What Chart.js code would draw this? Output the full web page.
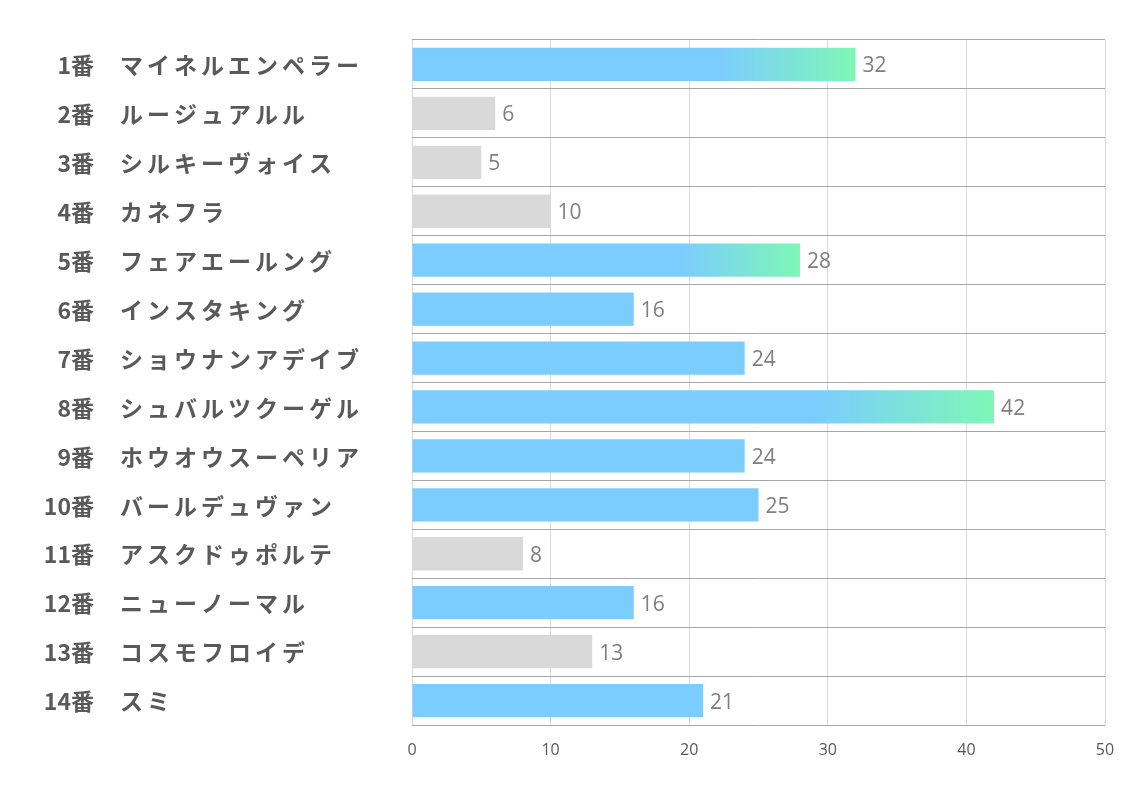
<!DOCTYPE html>
<html><head><meta charset="utf-8">
<script src="https://cdn.jsdelivr.net/npm/chart.js@4/dist/chart.umd.min.js"></script>
<style>html,body{margin:0;padding:0;background:#fff}#wrap{width:1134px;height:793px}</style>
</head><body><div id="wrap"><canvas id="c"></canvas></div>
<script>
const horseNumbers = ["1番","2番","3番","4番","5番","6番","7番","8番","9番","10番","11番","12番","13番","14番"];
const horseNames = ["マイネルエンペラー","ルージュアルル","シルキーヴォイス","カネフラ","フェアエールング","インスタキング","ショウナンアデイブ","シュバルツクーゲル","ホウオウスーペリア","バールデュヴァン","アスクドゥポルテ","ニューノーマル","コスモフロイデ","スミ"];
const values = [32,6,5,10,28,16,24,42,24,25,8,16,13,21];
const tiers = ["top","low","low","low","top","mid","mid","top","mid","mid","low","mid","low","mid"];
const xTicks = [0,10,20,30,40,50];

const BLUE = "#7BCCFF", GREEN = "#7EF7B6", GRAY = "#D9D9D9";

const labelPlugin = {
  id: "labels",
  afterDatasetsDraw(chart) {
    const ctx = chart.ctx;
    const meta = chart.getDatasetMeta(0);
    ctx.save();
    ctx.font = "21px 'Open Sans', sans-serif";
    ctx.fillStyle = "#7F7F7F";
    ctx.textAlign = "left";
    ctx.textBaseline = "middle";
    meta.data.forEach((el, i) => {
      ctx.fillText(String(values[i]), el.x + 7, el.y + 2);
    });
    const y = chart.scales.y;
    ctx.fillStyle = "#595959";
    horseNumbers.forEach((n, i) => {
      const py = y.getPixelForValue(i) + 1;
      ctx.font = "bold 23px 'Noto Sans CJK JP', sans-serif";
      ctx.letterSpacing = "0px";
      ctx.textAlign = "right";
      ctx.fillText(n, 94, py);
      ctx.textAlign = "left";
      ctx.letterSpacing = "4px";
      ctx.fillText(horseNames[i], 120, py);
    });
    ctx.restore();
  }
};

new Chart(document.getElementById("c"), {
  type: "bar",
  data: {
    labels: horseNames,
    datasets: [{
      data: values,
      barPercentage: 0.68,
      categoryPercentage: 1,
      backgroundColor(c) {
        const i = c.dataIndex;
        if (tiers[i] === "low") return GRAY;
        if (tiers[i] === "mid") return BLUE;
        const ch = c.chart;
        if (!ch.chartArea) return BLUE;
        const x0 = ch.scales.x.getPixelForValue(0);
        const x1 = ch.scales.x.getPixelForValue(values[i]);
        const g = ch.ctx.createLinearGradient(x0, 0, x1, 0);
        g.addColorStop(0, BLUE);
        g.addColorStop(0.69, BLUE);
        g.addColorStop(1, GREEN);
        return g;
      }
    }]
  },
  options: {
    indexAxis: "y",
    responsive: true,
    maintainAspectRatio: false,
    animation: false,
    layout: { padding: { left: 0, right: 29, top: 40, bottom: 0 } },
    plugins: { legend: { display: false }, tooltip: { enabled: false } },
    scales: {
      x: {
        min: 0, max: 50,
        afterBuildTicks(s) { s.ticks = xTicks.map(v => ({ value: v })); },
        afterFit(s) { s.height = 68; },
        grid: { color: "#D9D9D9", drawTicks: false },
        border: { display: false },
        ticks: { color: "#595959", font: { size: 16, family: "'Liberation Sans Narrow', 'Open Sans', sans-serif" }, padding: 16, maxRotation: 0 }
      },
      y: {
        afterFit(s) { s.width = 412; },
        grid: { color: "#A6A6A6", drawTicks: false, offset: true },
        border: { display: false },
        ticks: { display: false }
      }
    }
  },
  plugins: [labelPlugin]
});
</script></body></html>
